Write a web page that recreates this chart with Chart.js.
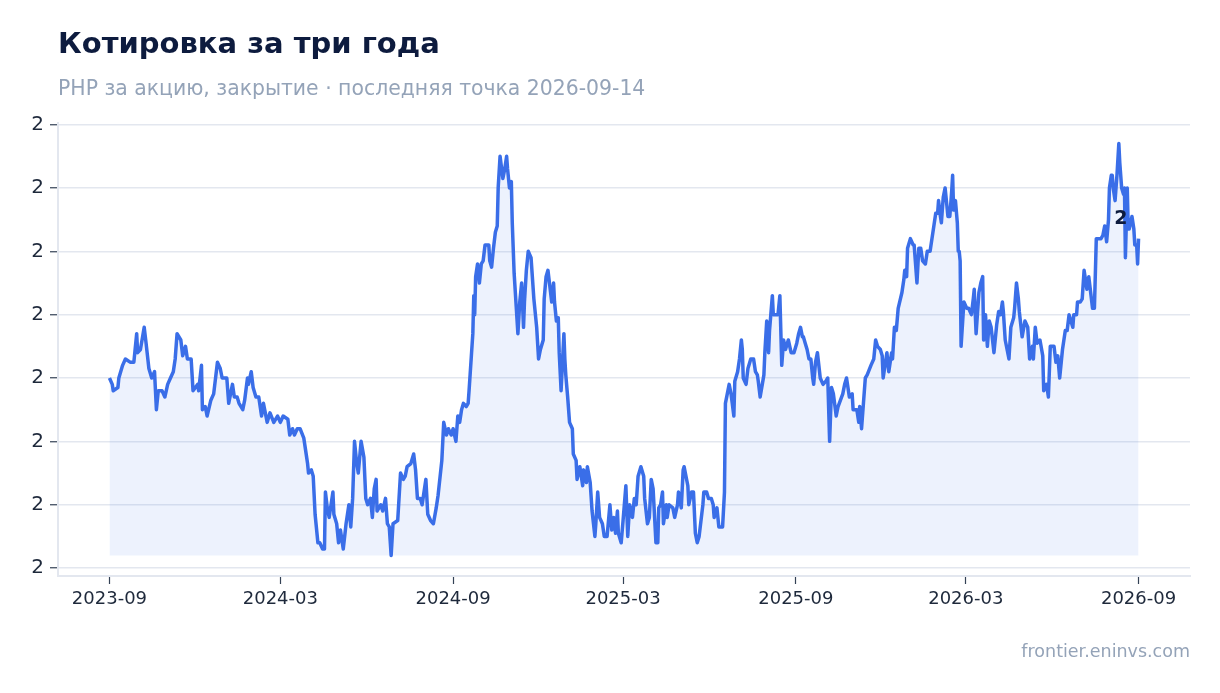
<!DOCTYPE html>
<html lang="ru">
<head>
<meta charset="utf-8">
<title>Котировка за три года</title>
<script src="https://cdn.jsdelivr.net/npm/chart.js@4.4.1/dist/chart.umd.min.js"></script>
<style>
  html, body { margin: 0; padding: 0; background: #ffffff; }
  body { width: 1220px; height: 693px; position: relative; overflow: hidden; font-family: "DejaVu Sans", sans-serif; }
  #title { position: absolute; left: 58px; top: 26px; font-size: 29px; font-weight: bold; color: #0d1b3e; }
  #subtitle { position: absolute; left: 58px; top: 76px; font-size: 20.4px; color: #94a3b8; }
  #source { position: absolute; right: 30px; top: 641px; font-size: 17.5px; color: #94a3b8; }
  #wrap { position: absolute; left: 0; top: 0; width: 1220px; height: 693px; }
</style>
</head>
<body>
<div id="wrap"><canvas id="chart"></canvas></div>
<div id="title">Котировка за три года</div>
<div id="subtitle">PHP за акцию, закрытие · последняя точка 2026-09-14</div>
<div id="source">frontier.eninvs.com</div>

<script>
// Data: day offset from the first close, and the close itself
const startDate = "2023-09-14";
const tickLabels = ["2023-09", "2024-03", "2024-09", "2025-03", "2025-09", "2026-03", "2026-09"];
const yTicks = [1.6, 1.7, 1.8, 1.9, 2.0, 2.1, 2.2, 2.3];

const dayOffsets = [
  0, 3, 4, 9, 10, 14, 17, 22, 26, 29, 30, 33, 37, 39, 42, 45, 48, 50, 52, 56,
  59, 62, 65, 68, 70, 72, 76, 78, 81, 83, 87, 89, 94, 95, 98, 99, 102, 104, 108, 111,
  115, 118, 120, 125, 127, 131, 133, 136, 138, 142, 144, 147, 148, 151, 153, 156, 159, 162, 164, 168,
  171, 175, 179, 182, 185, 190, 192, 195, 197, 200, 203, 207, 209, 211, 212, 215, 217, 219, 222, 224,
  227, 229, 230, 232, 234, 238, 239, 242, 244, 246, 248, 249, 252, 255, 257, 259, 261, 263, 265, 268,
  271, 273, 275, 278, 280, 282, 284, 285, 289, 291, 294, 296, 298, 300, 302, 307, 310, 313, 315, 317,
  321, 324, 326, 328, 331, 333, 337, 339, 342, 345, 348, 350, 354, 356, 359, 361, 364, 366, 369, 371,
  373, 375, 377, 380, 382, 383, 387, 388, 389, 390, 392, 394, 396, 398, 400, 404, 405, 407, 409, 411,
  413, 414, 416, 419, 421, 423, 424, 426, 428, 429, 431, 435, 437, 439, 441, 442, 444, 446, 449, 452,
  455, 457, 459, 462, 463, 465, 467, 469, 471, 473, 474, 476, 478, 479, 481, 484, 485, 486, 488, 490,
  493, 494, 497, 498, 501, 504, 505, 508, 509, 512, 514, 517, 518, 520, 522, 525, 527, 530, 533, 535,
  537, 539, 541, 542, 545, 547, 550, 552, 554, 557, 559, 561, 563, 566, 569, 570, 573, 575, 577, 579,
  582, 584, 585, 587, 589, 590, 593, 594, 596, 600, 602, 605, 606, 609, 611, 612, 616, 617, 620, 622,
  624, 626, 628, 632, 633, 636, 638, 641, 643, 644, 647, 649, 653, 655, 656, 658, 660, 662, 665, 666,
  669, 671, 673, 674, 675, 678, 680, 683, 686, 688, 690, 691, 693, 697, 698, 700, 702, 703, 706, 707,
  712, 714, 716, 718, 720, 723, 726, 729, 732, 734, 736, 738, 739, 741, 743, 745, 747, 749, 750, 752,
  754, 757, 760, 763, 765, 767, 769, 771, 774, 776, 781, 783, 785, 786, 788, 791, 792, 796, 798, 799,
  801, 803, 805, 807, 811, 814, 816, 818, 821, 823, 824, 828, 830, 833, 834, 836, 838, 840, 844, 846,
  847, 849, 850, 853, 856, 857, 860, 862, 864, 866, 869, 871, 874, 877, 878, 880, 882, 883, 885, 886,
  888, 890, 893, 895, 897, 898, 899, 901, 903, 904, 905, 906, 907, 910, 913, 915, 918, 920, 921, 923,
  926, 928, 930, 931, 933, 935, 937, 939, 942, 945, 947, 949, 951, 952, 954, 958, 960, 963, 964, 966,
  968, 969, 972, 975, 978, 980, 983, 984, 986, 988, 991, 994, 995, 998, 1000, 1002, 1006, 1008, 1010, 1012,
  1015, 1018, 1020, 1022, 1026, 1027, 1030, 1031, 1034, 1036, 1038, 1041, 1043, 1045, 1047, 1049, 1051, 1053, 1056, 1058,
  1060, 1062, 1064, 1065, 1067, 1068, 1069, 1071, 1073, 1075, 1076, 1078, 1080, 1081, 1082, 1084, 1085, 1086, 1089, 1091,
  1092, 1094, 1095, 1096
];

const prices = [
  1.90, 1.89, 1.88, 1.885, 1.90, 1.92, 1.93, 1.925, 1.925, 1.97, 1.94, 1.945, 1.98, 1.955, 1.915, 1.90, 1.91, 1.85, 1.88, 1.88,
  1.87, 1.89, 1.90, 1.91, 1.93, 1.97, 1.96, 1.935, 1.95, 1.93, 1.93, 1.88, 1.89, 1.88, 1.92, 1.85, 1.855, 1.84, 1.865, 1.875,
  1.925, 1.915, 1.90, 1.90, 1.86, 1.89, 1.87, 1.87, 1.86, 1.85, 1.865, 1.90, 1.89, 1.91, 1.885, 1.87, 1.87, 1.84, 1.86, 1.83,
  1.845, 1.83, 1.84, 1.83, 1.84, 1.835, 1.81, 1.82, 1.81, 1.82, 1.82, 1.805, 1.785, 1.765, 1.75, 1.755, 1.745, 1.685, 1.64, 1.64,
  1.63, 1.63, 1.72, 1.695, 1.68, 1.72, 1.685, 1.67, 1.64, 1.66, 1.64, 1.63, 1.67, 1.70, 1.665, 1.71, 1.80, 1.77, 1.75, 1.80,
  1.775, 1.71, 1.70, 1.71, 1.68, 1.725, 1.74, 1.69, 1.70, 1.69, 1.71, 1.67, 1.665, 1.62, 1.67, 1.675, 1.75, 1.74, 1.745, 1.76,
  1.765, 1.78, 1.755, 1.71, 1.71, 1.70, 1.74, 1.685, 1.675, 1.67, 1.695, 1.715, 1.77, 1.83, 1.81, 1.82, 1.81, 1.82, 1.80, 1.84,
  1.83, 1.85, 1.86, 1.855, 1.86, 1.88, 1.97, 2.03, 2.00, 2.06, 2.08, 2.05, 2.08, 2.085, 2.11, 2.11, 2.085, 2.075, 2.105, 2.13,
  2.14, 2.20, 2.25, 2.215, 2.23, 2.25, 2.23, 2.20, 2.21, 2.145, 2.065, 1.97, 2.02, 2.05, 1.98, 2.02, 2.07, 2.10, 2.09, 2.025,
  1.98, 1.93, 1.945, 1.96, 2.025, 2.06, 2.07, 2.045, 2.02, 2.05, 2.02, 1.99, 1.995, 1.94, 1.88, 1.97, 1.93, 1.905, 1.87, 1.83,
  1.82, 1.78, 1.77, 1.74, 1.76, 1.73, 1.755, 1.735, 1.76, 1.735, 1.69, 1.65, 1.67, 1.72, 1.68, 1.67, 1.65, 1.65, 1.70, 1.66,
  1.68, 1.655, 1.69, 1.655, 1.64, 1.675, 1.73, 1.65, 1.70, 1.68, 1.71, 1.70, 1.745, 1.76, 1.745, 1.71, 1.67, 1.68, 1.74, 1.725,
  1.64, 1.64, 1.695, 1.70, 1.72, 1.67, 1.70, 1.68, 1.70, 1.695, 1.68, 1.70, 1.72, 1.695, 1.755, 1.76, 1.73, 1.70, 1.72, 1.72,
  1.655, 1.64, 1.65, 1.70, 1.72, 1.72, 1.71, 1.71, 1.70, 1.68, 1.695, 1.665, 1.665, 1.72, 1.86, 1.875, 1.89, 1.875, 1.84, 1.895,
  1.91, 1.93, 1.96, 1.945, 1.90, 1.89, 1.915, 1.93, 1.93, 1.91, 1.905, 1.895, 1.87, 1.905, 1.94, 1.99, 1.94, 1.975, 2.03, 2.00,
  2.00, 2.03, 1.92, 1.96, 1.945, 1.96, 1.94, 1.94, 1.955, 1.97, 1.98, 1.965, 1.965, 1.955, 1.945, 1.93, 1.93, 1.90, 1.89, 1.925,
  1.94, 1.90, 1.89, 1.895, 1.90, 1.80, 1.885, 1.875, 1.84, 1.855, 1.875, 1.89, 1.90, 1.89, 1.87, 1.875, 1.85, 1.85, 1.83, 1.855,
  1.82, 1.86, 1.90, 1.905, 1.92, 1.93, 1.96, 1.95, 1.945, 1.935, 1.90, 1.94, 1.91, 1.94, 1.93, 1.98, 1.975, 2.01, 2.035, 2.055,
  2.07, 2.06, 2.105, 2.12, 2.11, 2.11, 2.05, 2.105, 2.105, 2.085, 2.08, 2.10, 2.10, 2.13, 2.14, 2.16, 2.16, 2.18, 2.155, 2.145,
  2.185, 2.20, 2.155, 2.155, 2.195, 2.22, 2.165, 2.18, 2.145, 2.10, 2.10, 2.085, 1.95, 2.02, 2.01, 2.01, 2.00, 2.025, 2.04, 1.97,
  2.035, 2.05, 2.06, 1.96, 2.00, 1.95, 1.99, 1.98, 1.94, 1.985, 2.005, 2.00, 2.02, 2.005, 1.96, 1.93, 1.98, 1.995, 2.01, 2.05,
  2.025, 2.005, 1.965, 1.99, 1.98, 1.93, 1.95, 1.93, 1.98, 1.955, 1.96, 1.935, 1.88, 1.89, 1.87, 1.95, 1.95, 1.925, 1.935, 1.90,
  1.945, 1.975, 1.975, 2.00, 1.98, 2.00, 2.00, 2.02, 2.02, 2.025, 2.07, 2.04, 2.06, 2.035, 2.01, 2.01, 2.12, 2.12, 2.12, 2.125,
  2.14, 2.115, 2.15, 2.20, 2.22, 2.22, 2.20, 2.18, 2.22, 2.27, 2.24, 2.20, 2.19, 2.20, 2.09, 2.20, 2.135, 2.135, 2.155, 2.135,
  2.11, 2.11, 2.08, 2.12
];

// tick positions = days from the first close to the same day of the labelled month
const dayMs = 24 * 3600 * 1000;
const start = new Date(startDate + "T00:00:00Z");
const tickDays = tickLabels.map(l => Math.round((new Date(l + "-14T00:00:00Z") - start) / dayMs));

const points = dayOffsets.map((d, i) => ({ x: d, y: prices[i] }));
const lastDay = dayOffsets[dayOffsets.length - 1];
const minPrice = Math.min(...prices);
const maxPrice = Math.max(...prices);
const yPad = (maxPrice - minPrice) * 0.05;

const inkColor = "#1e293b";
const gridColor = "#e3e7ef";

// writes the rounded last close next to the end of the line
const lastLabel = {
  id: "lastLabel",
  afterDatasetsDraw(chart) {
    const meta = chart.getDatasetMeta(0);
    const p = meta.data[meta.data.length - 1];
    const ctx = chart.ctx;
    ctx.save();
    ctx.font = "bold 19px 'DejaVu Sans'";
    ctx.fillStyle = "#0d1b3e";
    ctx.textAlign = "right";
    ctx.textBaseline = "bottom";
    ctx.fillText(Math.round(prices[prices.length - 1]).toString(), p.x - 11, p.y - 10);
    ctx.restore();
  }
};

const ctx = document.getElementById("chart");
new Chart(ctx, {
  type: "line",
  data: {
    datasets: [{
      label: "Закрытие",
      data: points,
      borderColor: "#3a6ee8",
      borderWidth: 3.5,
      borderJoinStyle: "round",
      pointRadius: 0,
      tension: 0,
      fill: { value: minPrice },
      backgroundColor: "rgba(58, 110, 232, 0.09)"
    }]
  },
  options: {
    responsive: true,
    maintainAspectRatio: false,
    animation: false,
    devicePixelRatio: 1,
    layout: { padding: { left: 0, right: 30, top: 123, bottom: 77 } },
    plugins: { legend: { display: false }, tooltip: { enabled: false } },
    scales: {
      x: {
        type: "linear",
        min: -lastDay * 0.05,
        max: lastDay * 1.05,
        afterBuildTicks: scale => { scale.ticks = tickDays.map(v => ({ value: v })); },
        afterFit: scale => { scale.height = 40; },
        ticks: {
          autoSkip: false,
          maxRotation: 0,
          padding: 5,
          color: inkColor,
          font: { family: "DejaVu Sans", size: 18 },
          callback: (v) => tickLabels[tickDays.indexOf(v)]
        },
        grid: { drawOnChartArea: false, tickLength: 8, tickColor: "#334155", tickWidth: 1.2 },
        border: { color: gridColor, width: 2 }
      },
      y: {
        min: minPrice - yPad,
        max: maxPrice + yPad,
        afterBuildTicks: scale => { scale.ticks = yTicks.map(v => ({ value: v })); },
        afterFit: scale => { scale.width = 58; },
        ticks: {
          padding: 6,
          color: inkColor,
          font: { family: "DejaVu Sans", size: 20 },
          callback: (v) => Math.round(v).toString()
        },
        grid: { color: gridColor, lineWidth: 1.5, tickLength: 8, tickColor: "#334155", tickWidth: 1.2 },
        border: { color: gridColor, width: 2 }
      }
    }
  },
  plugins: [lastLabel]
});
</script>
</body>
</html>
